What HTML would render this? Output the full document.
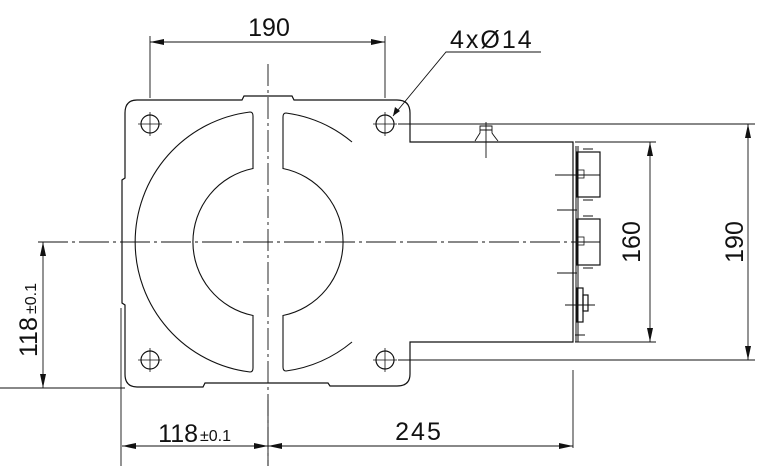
<!DOCTYPE html>
<html><head><meta charset="utf-8"><style>
html,body{margin:0;padding:0;background:#fff;}
svg{display:block;}
text{font-family:"Liberation Sans",sans-serif;fill:#111;}
</style></head><body>
<svg width="768" height="466" viewBox="0 0 768 466" xmlns="http://www.w3.org/2000/svg">
<defs>
<marker id="a" markerWidth="14" markerHeight="6" refX="14" refY="3" orient="auto" markerUnits="userSpaceOnUse"><path d="M0,0L14,3L0,6z" fill="#111"/></marker>
<marker id="b" markerWidth="14" markerHeight="6" refX="0" refY="3" orient="auto" markerUnits="userSpaceOnUse"><path d="M14,0L0,3L14,6z" fill="#111"/></marker>
</defs>
<g fill="none" stroke="#111" stroke-width="1.2">
<path d="M137,100 L242,100 L244,96 L292,96 L294,100 L397,100 Q410,100 410,113 L410,142 L573,142 L573,342 L410,342 L410,374 Q410,386 397,386 L330,386 L328,383 L205,383 L203,387 L137,387 Q125,387 125,374 L125,305 L122,303 L122,180 L125,178 L125,113 Q125,100 137,100 Z"/>
<!-- left C -->
<path d="M250,112 Q253,112 253,116 L253,168.5 A75,75 0 0 0 253,315.5 L253,368 Q253,372 250,372 A131,131 0 0 1 250,112 Z" stroke-width="1.1"/>
<!-- right piece -->
<path d="M352,142 A131,131 0 0 0 286,113 Q283,113 283,117 L283,168.5 A75,75 0 0 1 283,315.5 L283,367 Q283,371 286,371 A131,131 0 0 0 352,342" stroke-width="1.1"/>
<circle cx="150" cy="124" r="9"/><circle cx="385" cy="124" r="9"/>
<circle cx="150" cy="360" r="9"/><circle cx="385" cy="360" r="9"/>
<path d="M138,124H162M150,112V136M373,124H397M385,112V136M138,360H162M150,348V372M373,360H397M385,348V372" stroke-width="0.8"/>
<path d="M475,141 Q478,136 480,133 L480,126 L492,126 L492,133 Q494,136 498,141 M480,130H492 M486,122V158" stroke-width="0.9"/>
<path d="M576,146V342 M578,146V342" stroke-width="1"/>
<rect x="577" y="152" width="23" height="45"/>
<rect x="577" y="219" width="23" height="46"/>
<rect x="577" y="288" width="6" height="34"/>
<rect x="583" y="295" width="5" height="16"/>
<path d="M583,149h10M583,200h10M583,216h10M583,268h10M555,175h45M557,210h20M557,273h20M565,305h30M575,335h10" stroke-width="1"/>
<rect x="578" y="170" width="6" height="8" stroke-width="0.8"/>
<rect x="578" y="237" width="6" height="8" stroke-width="0.8"/>
<path d="M268,64V466" stroke-dasharray="22,4,3,4" stroke-width="0.9"/>
<path d="M38,242H600" stroke-dasharray="30,4,3,4" stroke-width="0.9"/>
<path d="M150,36V98M385,36V98M398,124H755M398,360H755M575,142H656M575,342H656M0,388H125M121,308V466M573,370V448M268,400V466" stroke-width="0.9"/>
<path d="M150,42H385" marker-start="url(#b)" marker-end="url(#a)" stroke-width="0.9"/>
<path d="M650,142V342" marker-start="url(#b)" marker-end="url(#a)" stroke-width="0.9"/>
<path d="M748,124V360" marker-start="url(#b)" marker-end="url(#a)" stroke-width="0.9"/>
<path d="M43,242V388" marker-start="url(#b)" marker-end="url(#a)" stroke-width="0.9"/>
<path d="M122,446H268" marker-start="url(#b)" marker-end="url(#a)" stroke-width="0.9"/>
<path d="M268,446H573" marker-start="url(#b)" marker-end="url(#a)" stroke-width="0.9"/>
<path d="M541,52H446L393,116" stroke-width="0.9"/>
<path d="M393,116l2,-9l5,4z" fill="#111" stroke="none"/>
</g>
<text x="269" y="36" font-size="25" text-anchor="middle">190</text>
<text x="450" y="48" font-size="25" letter-spacing="2">4xØ14</text>
<text x="198" y="442" font-size="25" text-anchor="end">118</text>
<text x="200" y="441" font-size="16">±0.1</text>
<text x="419" y="440" font-size="25" text-anchor="middle" letter-spacing="2">245</text>
<text transform="translate(640,242) rotate(-90)" font-size="25" text-anchor="middle">160</text>
<text transform="translate(743,242) rotate(-90)" font-size="25" text-anchor="middle">190</text>
<text transform="translate(37,357) rotate(-90)" font-size="25">118</text>
<text transform="translate(36,314) rotate(-90)" font-size="16">±0.1</text>
</svg>
</body></html>
